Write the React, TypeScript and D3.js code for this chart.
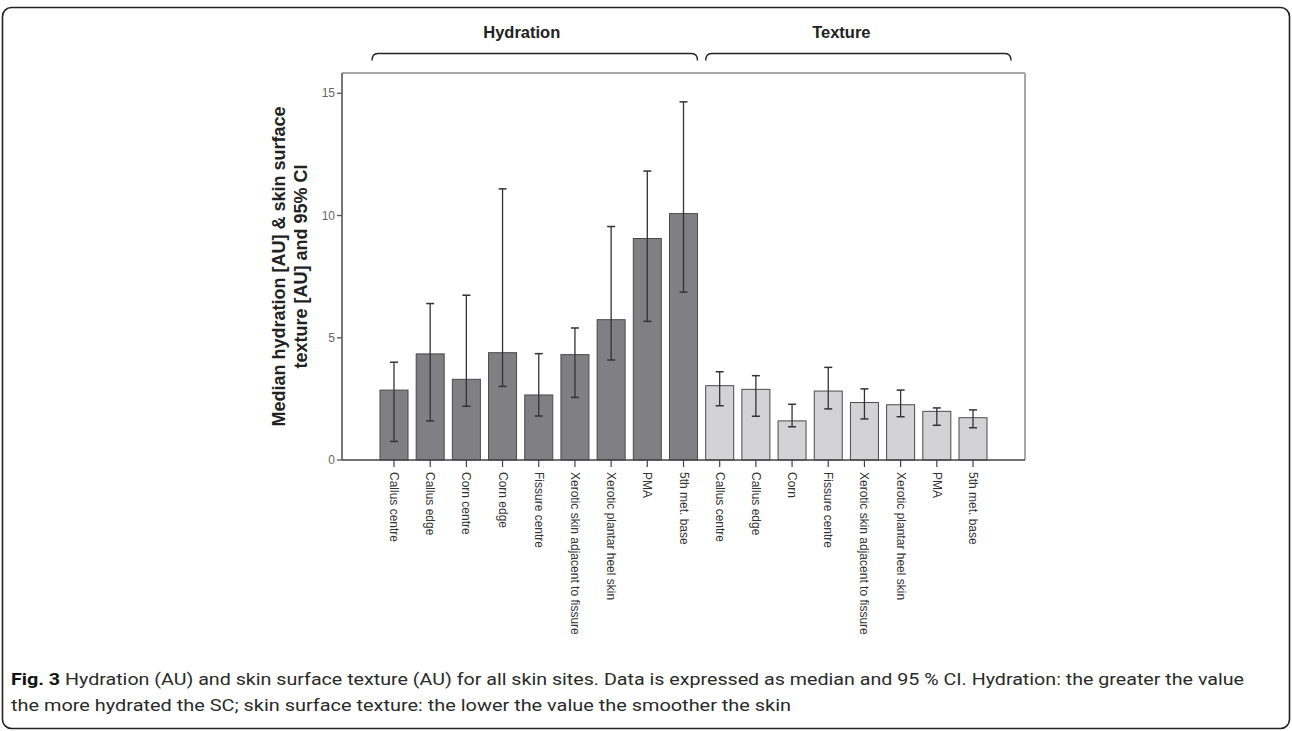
import React from "react";
import * as d3 from "d3";

const hydrationSites = ["Callus centre", "Callus edge", "Corn centre", "Corn edge", "Fissure centre", "Xerotic skin adjacent to fissure", "Xerotic plantar heel skin", "PMA", "5th met. base"];
const hydrationMedian = [2.86, 4.34, 3.30, 4.39, 2.66, 4.31, 5.74, 9.06, 10.08];
const hydrationLow = [0.76, 1.60, 2.20, 3.01, 1.80, 2.56, 4.09, 5.67, 6.87];
const hydrationHigh = [4.00, 6.40, 6.74, 11.09, 4.35, 5.40, 9.55, 11.82, 14.65];

const textureSites = ["Callus centre", "Callus edge", "Corn", "Fissure centre", "Xerotic skin adjacent to fissure", "Xerotic plantar heel skin", "PMA", "5th met. base"];
const textureMedian = [3.04, 2.89, 1.60, 2.82, 2.35, 2.26, 1.99, 1.73];
const textureLow = [2.22, 1.79, 1.36, 2.09, 1.68, 1.77, 1.42, 1.32];
const textureHigh = [3.61, 3.45, 2.28, 3.79, 2.91, 2.86, 2.13, 2.05];

const yTicks = [0, 5, 10, 15];
const groupTitles = ["Hydration", "Texture"];
const yTitleLines = ["Median hydration [AU] & skin surface", "texture [AU] and 95% CI"];
const captionBold = "Fig. 3";
const captionLine1 = " Hydration (AU) and skin surface texture (AU) for all skin sites. Data is expressed as median and 95 % CI. Hydration: the greater the value";
const captionLine2 = "the more hydrated the SC; skin surface texture: the lower the value the smoother the skin";

type Row = { key: string; label: string; group: number; med: number; lo: number; hi: number };
const rows: Row[] = [
  ...hydrationSites.map((s, i) => ({ key: "h" + i, label: s, group: 0, med: hydrationMedian[i], lo: hydrationLow[i], hi: hydrationHigh[i] })),
  ...textureSites.map((s, i) => ({ key: "t" + i, label: s, group: 1, med: textureMedian[i], lo: textureLow[i], hi: textureHigh[i] })),
];

const W = 1292, H = 731;
const plot = { left: 342, right: 1025, top: 73, bottom: 460 };
const FONT = "'Liberation Sans', Arial, Helvetica, sans-serif";
const CAPTION_FONT = "'Liberation Sans Narrow', 'Roboto', sans-serif";

export default function App() {
  const x = d3.scaleBand<string>().domain(rows.map(r => r.key)).range([plot.left, plot.right]).paddingInner(0.226).paddingOuter(1.05);
  const y = d3.scaleLinear().domain([0, 15.83]).range([plot.bottom, plot.top]);
  const bw = x.bandwidth();
  const fills = ["#808084", "#d3d3d5"];

  const hyd = rows.filter(r => r.group === 0);
  const tex = rows.filter(r => r.group === 1);
  const braces = [
    { x0: (x(hyd[0].key) as number) - 8, x1: (x(hyd[hyd.length - 1].key) as number) + bw, title: groupTitles[0], tx: -13 },
    { x0: (x(tex[0].key) as number), x1: (x(tex[tex.length - 1].key) as number) + bw + 24, title: groupTitles[1], tx: -17 },
  ];
  const braceY = 53.5;
  const r = 6;

  return (
    <svg width={W} height={H} style={{ position: "absolute", left: 0, top: 0, background: "#fff" }} fontFamily={FONT}>
      <rect x={0} y={0} width={W} height={H} fill="#fff" />
      <rect x={2.5} y={7.5} width={1287} height={721} rx={9} fill="none" stroke="#222" strokeWidth={1.6} />

      {braces.map((b, i) => (
        <g key={i}>
          <path d={`M${b.x0},${braceY + 7} Q${b.x0},${braceY} ${b.x0 + r},${braceY} L${b.x1 - r},${braceY} Q${b.x1},${braceY} ${b.x1},${braceY + 7}`} fill="none" stroke="#222" strokeWidth={1.4} />
          <text x={(b.x0 + b.x1) / 2 + b.tx} y={38} textAnchor="middle" fontWeight="bold" fontSize={16.5} fill="#222">{b.title}</text>
        </g>
      ))}

      <line x1={plot.left} x2={plot.right} y1={plot.top} y2={plot.top} stroke="#a8a8a8" strokeWidth={2} />
      <line x1={plot.right} x2={plot.right} y1={plot.top} y2={plot.bottom} stroke="#a8a8a8" strokeWidth={2} />

      {rows.map(d => {
        const x0 = x(d.key) as number;
        const cx = x0 + bw / 2;
        return (
          <g key={d.key}>
            <rect x={x0} y={y(d.med)} width={bw} height={y(0) - y(d.med)} fill={fills[d.group]} stroke="#4a4a4a" strokeWidth={1} />
            <line x1={cx} x2={cx} y1={y(d.lo)} y2={y(d.hi)} stroke="#333" strokeWidth={1.3} />
            <line x1={cx - 4} x2={cx + 4} y1={y(d.lo)} y2={y(d.lo)} stroke="#333" strokeWidth={1.5} />
            <line x1={cx - 4} x2={cx + 4} y1={y(d.hi)} y2={y(d.hi)} stroke="#333" strokeWidth={1.5} />
            <line x1={cx} x2={cx} y1={plot.bottom} y2={plot.bottom + 7} stroke="#444" strokeWidth={1.2} />
            <text transform={`translate(${cx},${plot.bottom + 12}) rotate(90)`} dominantBaseline="central" fontSize={12} fill="#333">{d.label}</text>
          </g>
        );
      })}

      <line x1={plot.left} x2={plot.left} y1={plot.top} y2={plot.bottom} stroke="#555" strokeWidth={1.6} />
      <line x1={plot.left} x2={plot.right} y1={plot.bottom} y2={plot.bottom} stroke="#444" strokeWidth={1.6} />

      {yTicks.map(t => (
        <g key={t}>
          <line x1={plot.left - 5} x2={plot.left} y1={y(t)} y2={y(t)} stroke="#555" strokeWidth={1.3} />
          <text x={plot.left - 7} y={y(t)} textAnchor="end" dominantBaseline="central" fontSize={12} fill="#666">{t}</text>
        </g>
      ))}

      <text transform={`translate(279,${(plot.top + plot.bottom) / 2}) rotate(-90)`} textAnchor="middle" fontWeight="bold" fontSize={18} fill="#222">
        <tspan x={0} y={0} dominantBaseline="central">{yTitleLines[0]}</tspan>
        <tspan x={0} y={21.5} dominantBaseline="central">{yTitleLines[1]}</tspan>
      </text>

      <text x={11} y={685} fontSize={17} fill="#2a2a2a" fontFamily={CAPTION_FONT} textLength={1233} lengthAdjust="spacingAndGlyphs">
        <tspan fontWeight="bold" fill="#111">{captionBold}</tspan>
        <tspan>{captionLine1}</tspan>
      </text>
      <text x={11} y={711} fontSize={17} fill="#2a2a2a" fontFamily={CAPTION_FONT} textLength={780} lengthAdjust="spacingAndGlyphs">
        {captionLine2}
      </text>
    </svg>
  );
}
